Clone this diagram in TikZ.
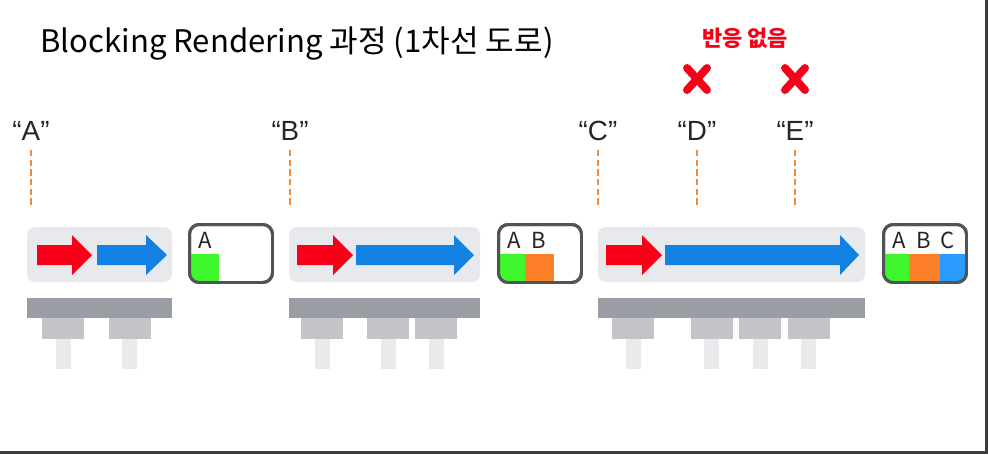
\documentclass[tikz,border=0pt]{standalone}
\usepackage{fontspec}
\setmainfont{Noto Sans CJK KR}
\newfontfamily\quotefont{Liberation Sans}
\usepackage{xcolor}
\definecolor{roadBg}{HTML}{E8E9EC}
\definecolor{deckGray}{HTML}{9A9EA4}
\definecolor{capGray}{HTML}{C2C4C7}
\definecolor{pillarGray}{HTML}{E9EAEC}
\definecolor{arrowRed}{HTML}{F80017}
\definecolor{arrowBlue}{HTML}{1281E2}
\definecolor{guideOrange}{HTML}{F38B3C}
\definecolor{boxBorder}{HTML}{4F5457}
\definecolor{resGreen}{HTML}{3DF72C}
\definecolor{resOrange}{HTML}{FD7F28}
\definecolor{resBlue}{HTML}{2A9CFE}
\definecolor{frameDark}{HTML}{3E3E40}
\usetikzlibrary{positioning}
\tikzset{
  panel/.style={fill=roadBg,rounded corners=4.5pt},
  resbox/.style={rectangle,rounded corners=5.5pt,draw=boxBorder,line width=1.7pt,fill=none,minimum width=1.66cm,minimum height=1.16cm,inner sep=0pt},
  reslabel/.style={anchor=base,inner sep=0pt,font=\fontsize{12.6}{14}\selectfont,text=black!85},
  quotelabel/.style={anchor=base,inner sep=0pt,font=\quotefont\fontsize{15.8}{18}\selectfont,text=black!85},
  guide/.style={draw=guideOrange,line width=1.6pt,dash pattern=on 3.6pt off 1.9pt},
  nomark/.style={draw=arrowRed,line width=4.5pt,line cap=round},
}

\begin{document}
\begin{tikzpicture}[x=0.02cm,y=-0.02cm]
  \useasboundingbox (0,0) rectangle (988,454);
  \fill[white] (0,0) rectangle (988,454);

  % title
  \node[anchor=base west,inner sep=0pt,font=\fontsize{17.7}{20}\selectfont] (title) at (40,52) {Blocking Rendering 과정 (1차선 도로)};
  \node[anchor=base,inner sep=0pt,font=\bfseries\fontsize{12.5}{14}\selectfont,text=arrowRed] (noresp) at (745,46) {반응 없음};

  % red crosses over D and E
  \foreach \x in {697,795} {%
    \draw[nomark] (\x-10,79-11) -- (\x+10,79+11);
    \draw[nomark] (\x-10,79+11) -- (\x+10,79-11);
  }

  % event labels and guides
  \foreach \n/\x in {A/31,B/290,C/598,D/697,E/795} {%
    \node[quotelabel] (lbl\n) at (\x,140) {“\n”};
    \draw[guide] (\x,150) -- (\x,207);
  }

  % road panels
  \fill[panel] (27,227) rectangle (172,282);
  \fill[panel] (289,227) rectangle (480,282);
  \fill[panel] (598,227) rectangle (865,282);

  % red / blue block arrows
  \foreach \xa/\xh/\xb/\col in {37/72/92/arrowRed, 97/146/167/arrowBlue,
      297/333/353/arrowRed, 356/454/474/arrowBlue,
      606/642/662/arrowRed, 665/840/859/arrowBlue} {%
    \fill[\col] (\xa,245) -- (\xh,245) -- (\xh,235) -- (\xb,255) -- (\xh,275) -- (\xh,265) -- (\xa,265) -- cycle;
  }

  % bridge decks
  \fill[deckGray] (27,298) rectangle (172,318);
  \fill[deckGray] (289,298) rectangle (480,318);
  \fill[deckGray] (598,298) rectangle (865,318);

  % piers
  \foreach \px in {63,129.5,322,388,436,633,711.5,760,808.5} {%
    \fill[capGray] (\px-21,318) rectangle (\px+21,339);
    \fill[pillarGray] (\px-7.5,339) rectangle (\px+7.5,369);
  }

  % result boxes
  \node[resbox] (res1) at (231,253.5) {};
  \node[resbox] (res2) at (540,253.5) {};
  \node[resbox] (res3) at (925,253.5) {};

  \begin{scope}
    \clip[rounded corners=4.5pt] (190,225) rectangle (272,282);
    \fill[resGreen] (190,254) rectangle (219,284);
  \end{scope}
  \begin{scope}
    \clip[rounded corners=4.5pt] (499,225) rectangle (581,282);
    \fill[resGreen] (499,254) rectangle (525,284);
    \fill[resOrange] (525,254) rectangle (554,284);
  \end{scope}
  \begin{scope}
    \clip[rounded corners=4.5pt] (884,225) rectangle (966,282);
    \fill[resGreen] (884,254) rectangle (909,284);
    \fill[resOrange] (909,254) rectangle (940,284);
    \fill[resBlue] (940,254) rectangle (968,284);
  \end{scope}
  \node[resbox] at (res1) {};
  \node[resbox] at (res2) {};
  \node[resbox] at (res3) {};

  \node[reslabel] (r1A) at (205,248) {A};
  \node[reslabel] (r2A) at (514,248) {A};
  \node[reslabel] (r2B) at (539,248) {B};
  \node[reslabel] (r3A) at (899,248) {A};
  \node[reslabel] (r3B) at (924,248) {B};
  \node[reslabel] (r3C) at (948,248) {C};

  % screenshot frame
  \fill[frameDark] (985,0) rectangle (988,454);
  \fill[frameDark] (0,451) rectangle (988,454);
\end{tikzpicture}
\end{document}
